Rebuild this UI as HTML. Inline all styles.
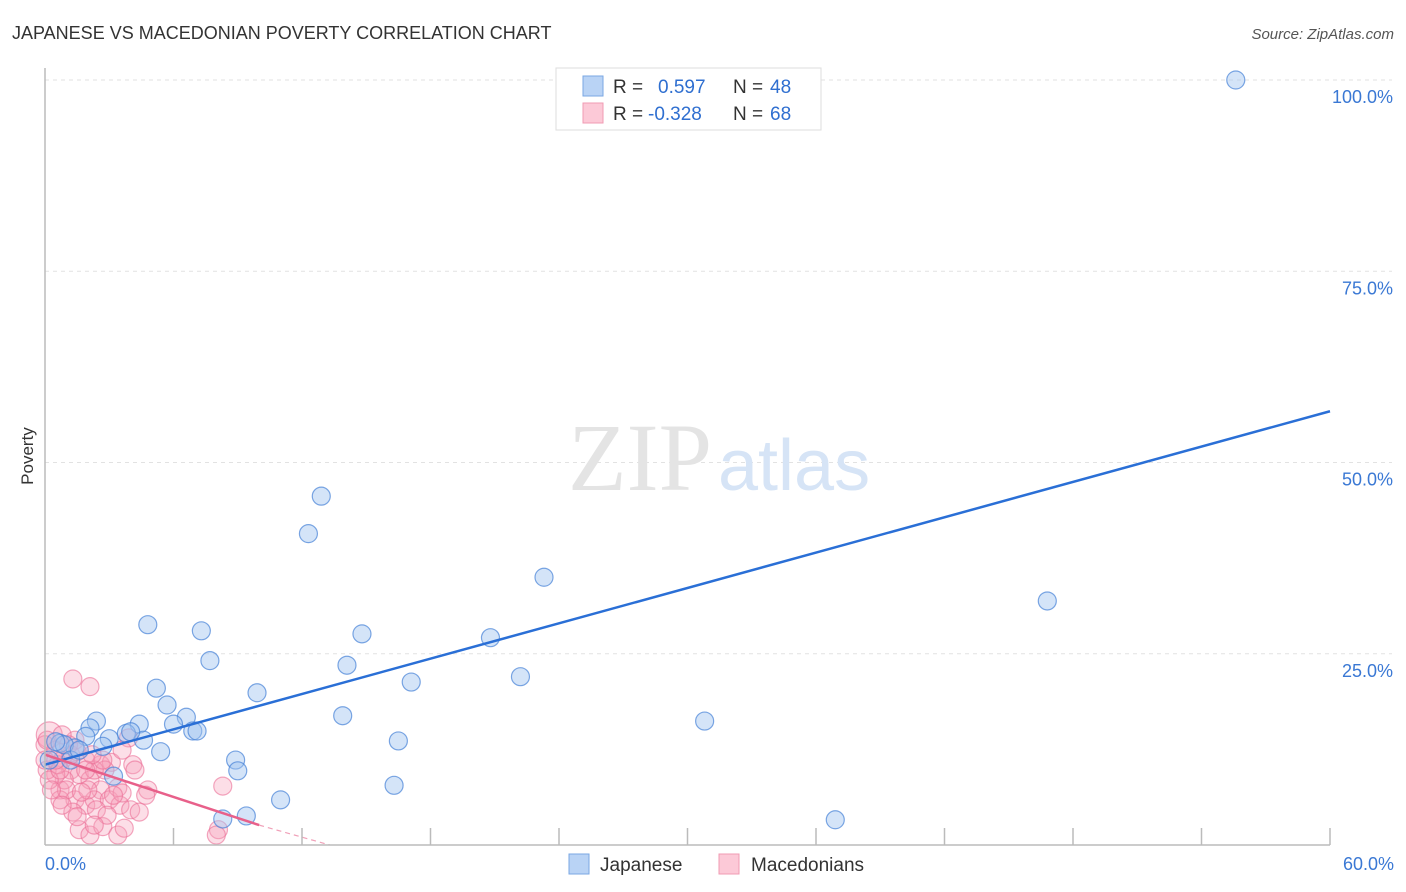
<!DOCTYPE html>
<html><head><meta charset="utf-8"><style>
body{margin:0;background:#fff;font-family:"Liberation Sans",sans-serif;}
#wrap{position:relative;width:1406px;height:892px;overflow:hidden;}
</style></head><body>
<div id="wrap">
<svg id="svg" width="1406" height="892" xmlns="http://www.w3.org/2000/svg">
<text x="12" y="39" font-size="18" fill="#333">JAPANESE VS MACEDONIAN POVERTY CORRELATION CHART</text>
<text x="1394" y="39" font-size="15" fill="#555" font-style="italic" text-anchor="end">Source: ZipAtlas.com</text>
<text x="33" y="456" font-size="17" fill="#333" text-anchor="middle" transform="rotate(-90 33 456)">Poverty</text>
<g id="grid"></g>
<text x="712" y="490" font-size="96" fill="#e4e4e4" text-anchor="end" font-family="Liberation Serif,serif">ZIP</text>
<text x="718" y="490" font-size="72" fill="#d6e4f6">atlas</text>
<g id="marks"></g>
<g id="axes"></g>
<g>
<rect x="556" y="68" width="265" height="62" fill="#fff" stroke="#ddd"/>
<rect x="583" y="76" width="20" height="20" fill="#b9d3f5" stroke="#7aa7e3"/>
<rect x="583" y="103" width="20" height="20" fill="#fcc9d7" stroke="#f09bb3"/>
<text x="613" y="93" font-size="19" fill="#333">R = </text><text x="658" y="93" font-size="19" fill="#2f6fd0">0.597</text>
<text x="733" y="93" font-size="19" fill="#333">N = </text><text x="770" y="93" font-size="19" fill="#2f6fd0">48</text>
<text x="613" y="120" font-size="19" fill="#333">R = </text><text x="648" y="120" font-size="19" fill="#2f6fd0">-0.328</text>
<text x="733" y="120" font-size="19" fill="#333">N = </text><text x="770" y="120" font-size="19" fill="#2f6fd0">68</text>
</g>
<g>
<rect x="569" y="854" width="20" height="20" fill="#b9d3f5" stroke="#7aa7e3"/>
<text x="600" y="871" font-size="19" fill="#333">Japanese</text>
<rect x="719" y="854" width="20" height="20" fill="#fcc9d7" stroke="#f09bb3"/>
<text x="751" y="871" font-size="19" fill="#333">Macedonians</text>
</g>
</svg>
</div>
<script>
const jpX=[55.6,12.9,12.3,23.3,46.8,4.8,7.3,14.8,20.8,7.7,14.1,22.2,5.2,17.1,9.9,5.7,13.9,30.8,2.4,6.6,4.4,6.0,6.9,7.1,2.1,3.8,3.0,4.6,1.9,0.7,1.4,2.7,5.4,16.5,8.9,9.0,3.2,16.3,11.0,9.4,8.3,36.9,0.9,0.2,4.0,1.2,0.5,1.6];
const jpY=[100,45.6,40.7,35.0,31.9,28.8,28.0,27.6,27.1,24.1,23.5,22.0,20.5,21.3,19.9,18.3,16.9,16.2,16.2,16.7,15.8,15.8,14.9,14.9,15.3,14.6,13.9,13.7,14.2,13.3,12.7,12.9,12.2,13.6,11.1,9.7,9.0,7.8,5.9,3.8,3.4,3.3,13.1,11.1,14.8,11.1,13.5,12.4];
const mkX=[1.3,2.1,0.2,0.0,0.5,0.8,1.2,1.6,2.1,2.6,0.7,1.4,1.9,2.3,3.0,3.5,4.0,0.9,0.5,0.1,0.2,0.6,1.2,1.9,2.6,3.1,4.1,4.2,3.9,3.6,2.8,1.6,2.1,2.7,3.4,3.7,4.4,4.8,3.4,3.6,8.3,8.1,8.0,0.7,1.3,2.0,2.3,2.7,1.4,1.1,1.5,2.2,1.0,1.7,2.4,2.9,0.0,0.1,0.3,0.7,0.8,0.5,1.9,3.2,4.7,0.8,1.5,2.3];
const mkY=[21.7,20.7,14.4,13.1,12.4,11.1,9.8,9.2,8.5,7.2,7.2,5.9,5.2,5.9,5.9,5.2,4.6,8.5,9.2,9.8,8.5,10.5,11.8,11.1,10.5,10.8,10.5,9.8,14.0,12.4,9.8,2.0,1.3,2.4,1.3,2.2,4.3,7.2,7.5,6.8,7.7,2.0,1.3,5.9,4.3,7.2,9.8,11.1,13.7,13.1,12.2,11.8,7.2,6.9,4.6,3.9,11.1,13.7,7.2,9.8,14.4,11.1,9.8,6.5,6.5,5.2,3.7,2.6];
const yTicks=[25,50,75,100];
const yTickLabels=["25.0%","50.0%","75.0%","100.0%"];
const jpTrend=[10.5,56.7];
const mkTrend=[11.8,2.6,0.0];
const mkTrendX=[0,10,13.3];
const NS="http://www.w3.org/2000/svg";
const xs=v=>45+v/60*1285, ys=v=>845-v/100*765;
function mk(tag,attrs,parent){const e=document.createElementNS(NS,tag);for(const k in attrs)e.setAttribute(k,attrs[k]);parent.appendChild(e);return e;}
const grid=document.getElementById('grid'),marks=document.getElementById('marks'),axes=document.getElementById('axes');
yTicks.forEach((t,i)=>{
 const l=mk('line',{x1:45,x2:1392,y1:ys(t),y2:ys(t),stroke:'#e2e2e2','stroke-dasharray':'4,4'},grid);
 
 
 const tx=mk('text',{x:1393,y:ys(t)+23,'font-size':18,fill:'#3a78d4','text-anchor':'end'},axes);
 tx.textContent=yTickLabels[i];
 
 
});
mk('line',{x1:45,x2:45,y1:68,y2:845,stroke:'#bbb','stroke-width':1.5},axes);
mk('line',{x1:45,x2:1330,y1:845,y2:845,stroke:'#bbb','stroke-width':1.5},axes);
for(let i=1;i<=10;i++){const t=mk('line',{x1:xs(i*6),x2:xs(i*6),y1:828,y2:845,stroke:'#bbb','stroke-width':1.5},axes);
 
 }
const xl0=mk('text',{x:45,y:870,'font-size':18,fill:'#3a78d4'},axes);xl0.textContent='0.0%';


const xl1=mk('text',{x:1394,y:870,'font-size':18,fill:'#3a78d4','text-anchor':'end'},axes);xl1.textContent='60.0%';


mkX.forEach((x,i)=>{const c=mk('circle',{cx:xs(x),cy:ys(mkY[i]),r:(i==2?13:9),fill:'rgba(247,160,185,0.35)',stroke:'rgba(235,110,150,0.6)','stroke-width':1.2},marks);
 
 });
jpX.forEach((x,i)=>{const c=mk('circle',{cx:xs(x),cy:ys(jpY[i]),r:9,fill:'rgba(160,195,240,0.45)',stroke:'rgba(70,130,215,0.7)','stroke-width':1.2},marks);
 
 });
const jl=mk('line',{x1:xs(0),y1:ys(jpTrend[0]),x2:xs(60),y2:ys(jpTrend[1]),stroke:'#2a6fd6','stroke-width':2.5},marks);


const ml=mk('line',{x1:xs(mkTrendX[0]),y1:ys(mkTrend[0]),x2:xs(mkTrendX[1]),y2:ys(mkTrend[1]),stroke:'#e8608a','stroke-width':2.5},marks);


const md=mk('line',{x1:xs(mkTrendX[1]),y1:ys(mkTrend[1]),x2:xs(mkTrendX[2]),y2:ys(mkTrend[2]),stroke:'#f0a0b8','stroke-width':1.2,'stroke-dasharray':'5,4'},marks);


</script>
</body></html>
